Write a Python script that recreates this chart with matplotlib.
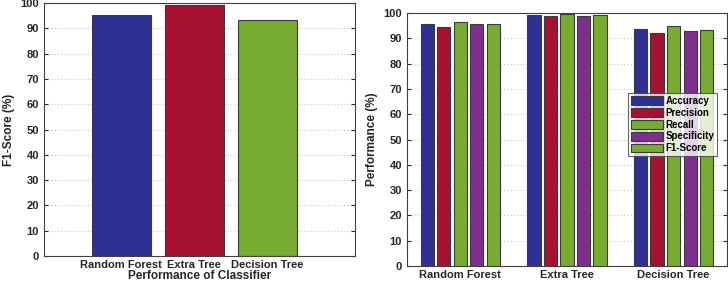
import numpy as np
import matplotlib.pyplot as plt

plt.rcParams['font.family'] = ['Liberation Sans', 'DejaVu Sans']
plt.rcParams['font.weight'] = 'bold'

# data
classifiers = ['Random Forest', 'Extra Tree', 'Decision Tree']
f1_scores = [95.5, 99.3, 93.5]

metrics = ['Accuracy', 'Precision', 'Recall', 'Specificity', 'F1-Score']
accuracy = [95.8, 99.2, 93.8]
precision = [94.3, 98.9, 92.2]
recall = [96.4, 99.7, 94.9]
specificity = [95.5, 98.9, 93.0]
f1_score = [95.5, 99.3, 93.5]

blue = '#2E3192'
red = '#A51331'
green = '#77AC30'
purple = '#7E2F8E'
metric_colors = [blue, red, green, purple, green]
edge = '#3a3a3a'

fig = plt.figure(figsize=(7.28, 2.84), dpi=100)
ax1 = fig.add_axes([0.0604, 0.0986, 0.4272, 0.8904])
ax2 = fig.add_axes([0.559, 0.0634, 0.4396, 0.8906])


def style_axes(ax):
    ax.set_ylim(0, 100)
    ax.set_yticks(np.arange(0, 101, 10))
    ax.yaxis.grid(True, linestyle=(0, (1, 2)), color='#c8c8c8', linewidth=0.8)
    ax.set_axisbelow(True)
    ax.tick_params(axis='y', direction='in', right=True, length=3,
                   labelsize=8, colors='#262626')
    ax.tick_params(axis='x', length=0, labelsize=8, colors='#262626', pad=3)
    for s in ax.spines.values():
        s.set_color('#404040')
        s.set_linewidth(0.8)
    for lab in ax.get_xticklabels() + ax.get_yticklabels():
        lab.set_fontweight('bold')


# left panel: F1-score per classifier
x = np.arange(1, 4)
ax1.bar(x, f1_scores, width=0.8, color=[blue, red, green],
        edgecolor=edge, linewidth=0.8)
ax1.set_xlim(-0.06, 4.2)
ax1.set_xticks(x)
ax1.set_xticklabels(classifiers)
ax1.set_ylabel('F1-Score (%)', fontsize=8.5, fontweight='bold', color='#262626', labelpad=4)
ax1.set_xlabel('Performance of Classifier', fontsize=8.5, fontweight='bold',
               color='#262626', labelpad=0)
style_axes(ax1)

# right panel: all metrics
series = [accuracy, precision, recall, specificity, f1_score]
step = 0.155
for i, (vals, name) in enumerate(zip(series, metrics)):
    ax2.bar(x + (i - 2) * step, vals, width=0.125, color=metric_colors[i],
            edgecolor=edge, linewidth=0.8, label=name)
ax2.set_xlim(0.5, 3.5)
ax2.set_xticks(x)
ax2.set_xticklabels(classifiers)
ax2.set_ylabel('Performance (%)', fontsize=8.5, fontweight='bold', color='#262626', labelpad=4)
style_axes(ax2)
leg = ax2.legend(loc='upper right', bbox_to_anchor=(0.97, 0.685), fontsize=7,
                 frameon=True, fancybox=False, edgecolor='#404040',
                 handlelength=3.3, handleheight=1.0, handletextpad=0.3,
                 labelspacing=0.2, borderpad=0.3, borderaxespad=0)
leg.get_frame().set_linewidth(0.8)
for t in leg.get_texts():
    t.set_fontweight('bold')

fig.savefig('out.png', dpi=100)
